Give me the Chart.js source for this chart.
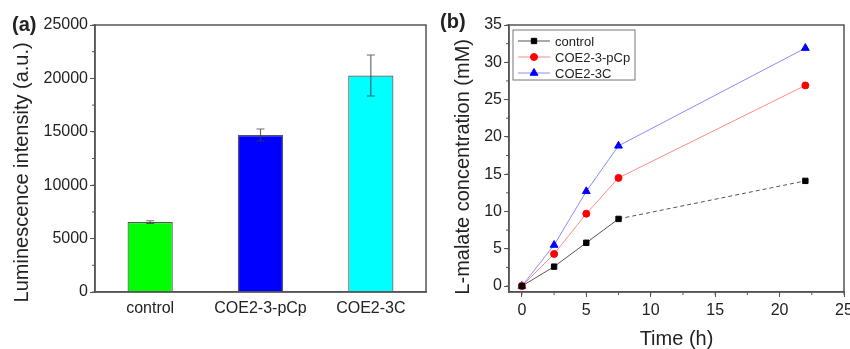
<!DOCTYPE html>
<html>
<head>
<meta charset="utf-8">
<script src="https://cdn.jsdelivr.net/npm/chart.js@4.4.1/dist/chart.umd.min.js"></script>
<style>
  body { margin: 0; background: #fff; }
  #wrap { position: relative; width: 850px; height: 349px; overflow: hidden; }
  canvas { position: absolute; top: 0; }
</style>
</head>
<body>
<div id="wrap">
  <canvas id="barChart" width="430" height="349" style="left:0"></canvas>
  <canvas id="lineChart" width="420" height="349" style="left:430px"></canvas>
</div>
<script>
// panel (a) data
const barCategories = ['control', 'COE2-3-pCp', 'COE2-3C'];
const barValues = [6550, 14700, 20270];
const barErrors = [120, 560, 1920];
const barColors = ['#00ff00', '#0000ff', '#00ffff'];

// panel (b) data
const timeHours = [0, 2.5, 5, 7.5, 22];
const controlMalate = [0, 2.6, 5.8, 9.0, 14.1];
const pcpMalate = [0, 4.3, 9.7, 14.5, 26.9];
const c3Malate = [0, 5.5, 12.7, 18.8, 31.9];

const FONT = "'Liberation Sans', Arial, sans-serif";
const TEXT = '#222';
const AXIS = '#555';

Chart.defaults.font.family = FONT;
Chart.defaults.color = TEXT;

// draws the box round the plot, minor ticks and the panel letter
function framePlugin(letter, letterX, letterY, minor) {
  return {
    id: 'frame',
    afterDraw(chart) {
      const ctx = chart.ctx;
      const a = chart.chartArea;
      ctx.save();
      ctx.strokeStyle = AXIS;
      ctx.lineWidth = 1.5;
      ctx.strokeRect(a.left, a.top, a.right - a.left, a.bottom - a.top);
      // minor ticks
      ctx.lineWidth = 1;
      Object.keys(minor).forEach(id => {
        const scale = chart.scales[id];
        const step = minor[id];
        for (let v = Math.ceil(scale.min / step) * step; v <= scale.max; v += step) {
          const p = scale.getPixelForValue(v);
          ctx.beginPath();
          if (scale.isHorizontal()) {
            ctx.moveTo(p, a.bottom);
            ctx.lineTo(p, a.bottom + 3);
          } else {
            ctx.moveTo(a.left, p);
            ctx.lineTo(a.left - 3, p);
          }
          ctx.stroke();
        }
      });
      ctx.fillStyle = TEXT;
      ctx.font = 'bold 20px ' + FONT;
      ctx.textBaseline = 'middle';
      ctx.fillText(letter, letterX, letterY);
      ctx.restore();
    }
  };
}

const errorBarPlugin = {
  id: 'errorBars',
  afterDatasetsDraw(chart) {
    const ctx = chart.ctx;
    const y = chart.scales.y;
    const meta = chart.getDatasetMeta(0);
    ctx.save();
    ctx.strokeStyle = 'rgba(60,60,60,0.75)';
    ctx.lineWidth = 1.2;
    meta.data.forEach((bar, i) => {
      const hi = y.getPixelForValue(barValues[i] + barErrors[i]);
      const lo = y.getPixelForValue(barValues[i] - barErrors[i]);
      ctx.beginPath();
      ctx.moveTo(bar.x, hi); ctx.lineTo(bar.x, lo);
      ctx.moveTo(bar.x - 4, hi); ctx.lineTo(bar.x + 4, hi);
      ctx.moveTo(bar.x - 4, lo); ctx.lineTo(bar.x + 4, lo);
      ctx.stroke();
    });
    ctx.restore();
  }
};

const legendBoxPlugin = {
  id: 'legendBox',
  afterDraw(chart) {
    const ctx = chart.ctx;
    const a = chart.chartArea;
    const x0 = a.left + 4, y0 = a.top + 5;
    ctx.save();
    ctx.strokeStyle = '#777';
    ctx.lineWidth = 1;
    ctx.strokeRect(x0, y0, 122, 50);
    ctx.font = '13px ' + FONT;
    ctx.textBaseline = 'middle';
    chart.data.datasets.forEach((ds, i) => {
      const cy = y0 + 11 + i * 16;
      ctx.strokeStyle = ds.borderColor;
      ctx.beginPath();
      ctx.moveTo(x0 + 5, cy); ctx.lineTo(x0 + 37, cy);
      ctx.stroke();
      ctx.fillStyle = ds.pointBackgroundColor;
      ctx.strokeStyle = ds.pointBackgroundColor;
      Chart.helpers.drawPoint(ctx, {
        pointStyle: ds.pointStyle, radius: ds.pointRadius, borderWidth: 1, rotation: 0
      }, x0 + 21, cy);
      ctx.fillStyle = TEXT;
      ctx.fillText(ds.label, x0 + 42, cy + 1);
    });
    ctx.restore();
  }
};

function noPad(scale) {
  scale.paddingLeft = 0; scale.paddingRight = 0;
  scale.paddingTop = 0; scale.paddingBottom = 0;
}

const plainNumber = v => String(v);

// panel (a)
new Chart(document.getElementById('barChart'), {
  type: 'bar',
  data: {
    labels: barCategories,
    datasets: [{
      data: barValues,
      backgroundColor: barColors,
      borderColor: '#555',
      borderWidth: 1.2,
      barPercentage: 0.41,
      categoryPercentage: 1
    }]
  },
  options: {
    responsive: false,
    animation: false,
    devicePixelRatio: 1,
    layout: { padding: { top: 25, right: 4, left: 0, bottom: 0 } },
    plugins: { legend: { display: false }, tooltip: { enabled: false } },
    scales: {
      x: {
        grid: { display: false, drawTicks: false },
        border: { color: AXIS, width: 1.5 },
        ticks: { font: { size: 16 }, padding: 7, maxRotation: 0 },
        afterFit(scale) { scale.height = 57; noPad(scale); }
      },
      y: {
        min: 0, max: 25000,
        grid: { drawOnChartArea: false, tickLength: 5, tickColor: AXIS },
        border: { color: AXIS, width: 1.5 },
        ticks: { stepSize: 5000, font: { size: 16 }, padding: 2, callback: plainNumber },
        title: {
          display: true, text: 'Luminescence intensity (a.u.)' + ' '.repeat(5),
          font: { size: 20, lineHeight: 1 }, padding: { top: 12 }
        },
        afterFit(scale) { scale.width = 95; noPad(scale); }
      }
    }
  },
  plugins: [errorBarPlugin, framePlugin('(a)', 12, 25, { y: 2500 })]
});

// panel (b)
new Chart(document.getElementById('lineChart'), {
  type: 'line',
  data: {
    datasets: [
      {
        label: 'control',
        data: timeHours.map((t, i) => ({ x: t, y: controlMalate[i] })),
        borderColor: '#555',
        pointBackgroundColor: '#000',
        pointBorderColor: '#000',
        pointStyle: 'rect',
        pointRadius: 3.8,
        segment: { borderDash: c => (c.p0.parsed.x >= 7.5 ? [4, 3] : undefined) }
      },
      {
        label: 'COE2-3-pCp',
        data: timeHours.map((t, i) => ({ x: t, y: pcpMalate[i] })),
        borderColor: '#ff8a8a',
        pointBackgroundColor: '#ff0000',
        pointBorderColor: '#ff0000',
        pointStyle: 'circle',
        pointRadius: 3.5
      },
      {
        label: 'COE2-3C',
        data: timeHours.map((t, i) => ({ x: t, y: c3Malate[i] })),
        borderColor: '#8a8aff',
        pointBackgroundColor: '#0000ff',
        pointBorderColor: '#0000ff',
        pointStyle: 'triangle',
        pointRadius: 4.5
      }
    ]
  },
  options: {
    responsive: false,
    animation: false,
    devicePixelRatio: 1,
    layout: { padding: { top: 25, right: 6, left: 0, bottom: 0 } },
    elements: { line: { borderWidth: 1, tension: 0 }, point: { borderWidth: 1 } },
    plugins: { legend: { display: false }, tooltip: { enabled: false } },
    scales: {
      x: {
        type: 'linear', min: -1, max: 25,
        grid: { drawOnChartArea: false, tickLength: 5, tickColor: AXIS },
        border: { color: AXIS, width: 1.5 },
        ticks: { stepSize: 5, includeBounds: false, font: { size: 16 }, padding: 4, maxRotation: 0 },
        title: {
          display: true, text: 'Time (h)',
          font: { size: 20, lineHeight: 1 }, padding: { top: 0, bottom: 0 }
        },
        afterFit(scale) { scale.height = 57; noPad(scale); }
      },
      y: {
        min: -0.8, max: 35,
        grid: { drawOnChartArea: false, tickLength: 5, tickColor: AXIS },
        border: { color: AXIS, width: 1.5 },
        ticks: { stepSize: 5, includeBounds: false, font: { size: 16 }, padding: 2 },
        title: {
          display: true, text: 'L-malate concentration (mM)' + ' '.repeat(3),
          font: { size: 20, lineHeight: 1 }, padding: { top: 23 }
        },
        afterFit(scale) { scale.width = 79; noPad(scale); }
      }
    }
  },
  plugins: [legendBoxPlugin, framePlugin('(b)', 10, 22, { x: 2.5, y: 2.5 })]
});
</script>
</body>
</html>
